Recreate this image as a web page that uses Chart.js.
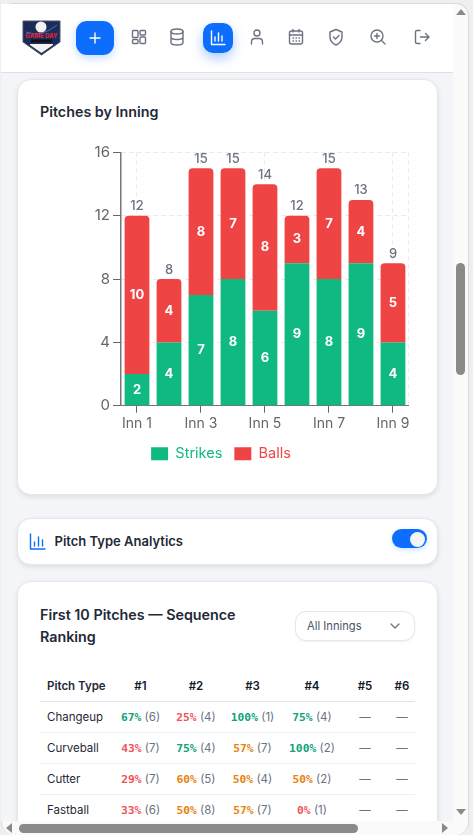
<!DOCTYPE html>
<html><head><meta charset="utf-8">
<script src="https://cdn.jsdelivr.net/npm/chart.js@4"></script>
<style>
*{box-sizing:border-box}
html,body{margin:0;padding:0;width:473px;height:835px;overflow:hidden;background:#efefef;font-family:Inter,"Noto Sans",sans-serif;color:#1f2937}
.abs{position:absolute}
#win{position:absolute;left:1px;top:3px;width:468px;height:832px;background:#fafafa;border-radius:13px;overflow:hidden;border:1px solid #d9d9d9;border-bottom:none}
#pane{position:absolute;left:0;top:0;width:473px;height:821px;overflow:hidden}
#bg{position:absolute;left:1px;top:72px;width:452px;height:749px;background:#f4f5f8}
#nav{position:absolute;left:1px;top:4px;width:452px;height:69px;background:#fff;border-bottom:1px solid #dde1e7}
.card{position:absolute;left:16.5px;width:421px;background:#fff;border:1px solid #e5e7eb;border-radius:14px;box-shadow:0 2px 5px rgba(17,24,39,.1)}
.ttl{position:absolute;font-weight:600;font-size:14.3px;line-height:22px;color:#1f2937}
.ic{position:absolute;width:20px;height:20px;fill:none;stroke:#6b7280;stroke-width:1.4;stroke-linecap:round;stroke-linejoin:round}
#plus{position:absolute;left:76px;top:21px;width:38px;height:34px;border-radius:11px;background:#0d6efd;box-shadow:0 3px 8px rgba(13,110,253,.25)}
#act{position:absolute;left:203px;top:23px;width:30px;height:30px;border-radius:10px;background:#0d6efd;box-shadow:0 5px 12px rgba(13,110,253,.35)}
#chartBox{position:absolute;left:31px;top:140px;width:381px;height:331px}
#tbl{position:absolute;left:40px;top:671px;width:375px;height:160px;font-size:11.5px}
.cell{position:absolute;transform:translate(-50%,-50%);white-space:nowrap;line-height:16px}
.hd{font-weight:600;font-size:11.5px;color:#111827}
.nm{transform:translate(0,-50%);color:#1f2937}
.pc{font-family:"DejaVu Sans Mono",monospace;font-weight:700;font-size:11.3px}
.ct{color:#6b7280}
.dash{color:#6b7280}
.ln{position:absolute;left:0;width:375px;height:1px;background:#eceef1}
.sb{position:absolute;background:#8a8a8a;border-radius:5px}
.ar{position:absolute;width:0;height:0}
</style></head><body>
<div id="win"></div>
<div id="pane">
  <div id="bg"></div>
  <div id="nav"></div>
  <svg class="abs" style="left:21px;top:20px" width="41" height="36" viewBox="0 0 41 36">
    <path d="M2 1H39V22L20.5 35 2 22Z" fill="#1c2c5a" stroke="#4a5568" stroke-width="1"/>
    <path d="M9 24H32V25L20.5 33 9 25Z" fill="#f2f2f2"/>
    <circle cx="20" cy="7" r="5.5" fill="#f4f1f1"/>
    <path d="M5 12Q20 18 36 5" fill="none" stroke="#3f6fd0" stroke-width="1"/>
    <text x="20.5" y="17.500" font-size="6" font-weight="800" fill="#d8283a" text-anchor="middle" font-family="Inter">GAME DAY</text>
    <rect x="10" y="19.500" width="21" height="3" fill="#111"/>
  </svg>
  <div id="plus"></div>
  <svg class="ic" style="left:85px;top:28px;stroke:#fff" viewBox="0 0 20 20"><path d="M10 5V15M5 10H15"/></svg>
  <svg class="ic" style="left:128.500px;top:27px" viewBox="0 0 20 20"><rect x="3.500" y="3.500" width="5.500" height="7" rx="1"/><rect x="11" y="3.500" width="5.500" height="4.500" rx="1"/><rect x="3.500" y="12.500" width="5.500" height="4" rx="1"/><rect x="11" y="10" width="5.500" height="6.500" rx="1"/></svg>
  <svg class="ic" style="left:167px;top:27px" viewBox="0 0 20 20"><ellipse cx="10" cy="4.500" rx="6" ry="2.500"/><path d="M4 4.500V15.500C4 17 7 18 10 18S16 17 16 15.500V4.500M4 10C4 11.500 7 12.500 10 12.500S16 11.500 16 10"/></svg>
  <div id="act"></div>
  <svg class="ic" style="left:208px;top:28px;stroke:#fff" viewBox="0 0 20 20"><path d="M3.500 3V16.500H17M7 13V9M10.500 13V5M14 13V8"/></svg>
  <svg class="ic" style="left:247px;top:27px" viewBox="0 0 20 20"><circle cx="10" cy="6" r="3"/><path d="M4.500 17V15C4.500 13 6 11.500 8 11.500H12C14 11.500 15.500 13 15.500 15V17"/></svg>
  <svg class="ic" style="left:286px;top:27px" viewBox="0 0 20 20"><rect x="3.500" y="4" width="13" height="13" rx="2"/><path d="M3.500 8H16.500M7 2.500V5M13 2.500V5M7 11H7.500M10 11H10.500M13 11H13.500M7 14H7.500M10 14H10.500M13 14H13.500"/></svg>
  <svg class="ic" style="left:326px;top:27px" viewBox="0 0 20 20"><path d="M10 2.500L16 5V10C16 14 13.500 16.500 10 18 6.500 16.500 4 14 4 10V5ZM7.500 10L9.500 12L13 8.500"/></svg>
  <svg class="ic" style="left:368px;top:27px" viewBox="0 0 20 20"><circle cx="9" cy="9" r="6"/><path d="M17 17L13.500 13.500M9 6.500V11.500M6.500 9H11.500"/></svg>
  <svg class="ic" style="left:412px;top:27px" viewBox="0 0 20 20"><path d="M8 3.500H5C4 3.500 3.500 4 3.500 5V15C3.500 16 4 16.500 5 16.500H8M8.500 10H17M13.500 6.500L17 10 13.500 13.500"/></svg>

  <div class="card" style="top:78.500px;height:416px"></div>
  <div class="ttl" style="left:40px;top:101px">Pitches by Inning</div>
  <div id="chartBox"><canvas id="c" width="381" height="331"></canvas></div>

  <div class="card" style="top:517.500px;height:47px"></div>
  <svg class="ic" style="left:28px;top:532px;stroke:#0d6efd" viewBox="0 0 20 20"><path d="M2.500 2V17H17M6.500 14V10M10.500 14V5M14.500 14V8"/></svg>
  <div class="abs" style="left:54.500px;top:533px;font-size:13px;font-weight:600;line-height:16px;color:#1f2937">Pitch Type Analytics</div>
  <div class="abs" style="left:392px;top:529px;width:35px;height:19px;border-radius:10px;background:#0d6efd;box-shadow:0 2px 5px rgba(13,110,253,.2)"></div>
  <div class="abs" style="left:409.500px;top:531.500px;width:15px;height:15px;border-radius:50%;background:#f3f4f6"></div>

  <div class="card" style="top:580.500px;height:300px"></div>
  <div class="ttl" style="left:40px;top:604px">First 10 Pitches — Sequence<br>Ranking</div>
  <div class="abs" style="left:295px;top:611px;width:120px;height:30px;background:#fff;border:1px solid #e5e7eb;border-radius:11px;box-shadow:0 1px 2px rgba(0,0,0,.05)"></div>
  <div class="abs" style="left:307px;top:618px;font-size:11.200px;line-height:16px;color:#4b5563">All Innings</div>
  <svg class="ic" style="left:385px;top:616px" viewBox="0 0 20 20"><path d="M6 8L10 12 14 8" stroke-width="1.200"/></svg>
  <div id="tbl"></div>
</div>
<div class="sb" style="left:456px;top:263px;width:9px;height:112px"></div>
<div class="sb" style="left:19px;top:824px;width:339px;height:9px"></div>
<div class="ar" style="left:456px;top:9px;border-left:5px solid transparent;border-right:5px solid transparent;border-bottom:6px solid #8a8a8a"></div>
<div class="ar" style="left:456px;top:809px;border-left:5px solid transparent;border-right:5px solid transparent;border-top:6px solid #8a8a8a"></div>
<div class="ar" style="left:6px;top:823px;border-top:5px solid transparent;border-bottom:5px solid transparent;border-right:6px solid #8a8a8a"></div>
<div class="ar" style="left:442px;top:823px;border-top:5px solid transparent;border-bottom:5px solid transparent;border-left:6px solid #8a8a8a"></div>
<script>
const innings = ['Inn 1','Inn 2','Inn 3','Inn 4','Inn 5','Inn 6','Inn 7','Inn 8','Inn 9'];
const strikes = [2,4,7,8,6,9,8,9,4];
const balls = [10,4,8,7,8,3,7,4,5];
const tableHeaders = ['#1','#2','#3','#4','#5','#6'];
const pitchTypes = ['Changeup','Curveball','Cutter','Fastball'];
const pitchPct = [[67,25,100,75],[43,75,57,100],[29,60,50,50],[33,50,57,0]];
const pitchCount = [[6,4,1,4],[7,4,7,2],[7,5,4,2],[6,8,7,1]];

const GREEN='#10b981', RED='#ef4444', GREY='#6b7280', FONT='Inter';

const barLabels = {
  id:'barLabels',
  afterDatasetsDraw(chart){
    const ctx=chart.ctx; ctx.save();
    ctx.textAlign='center'; ctx.textBaseline='middle';
    ctx.fillStyle='#fff'; ctx.font='700 13px '+FONT;
    chart.data.datasets.forEach((ds,di)=>{
      chart.getDatasetMeta(di).data.forEach((el,i)=>{
        ctx.fillText(String(ds.data[i]), el.x, (el.y+el.base)/2);
      });
    });
    ctx.fillStyle=GREY; ctx.font='500 13px '+FONT;
    ctx.textBaseline='bottom';
    chart.getDatasetMeta(1).data.forEach((el,i)=>{
      ctx.fillText(String(strikes[i]+balls[i]), el.x, el.y-3);
    });
    ctx.restore();
  }
};
const rightEdge = {
  id:'rightEdge',
  beforeDatasetsDraw(chart){
    const a=chart.chartArea, ctx=chart.ctx; ctx.save();
    ctx.strokeStyle='#e5e7eb'; ctx.lineWidth=1; ctx.setLineDash([4,4]);
    ctx.beginPath(); ctx.moveTo(a.right-.5,a.top); ctx.lineTo(a.right-.5,a.bottom); ctx.stroke();
    ctx.restore();
  }
};

new Chart(document.getElementById('c'),{
  type:'bar',
  data:{labels:innings,datasets:[
    {label:'Strikes',data:strikes,backgroundColor:GREEN,borderSkipped:false,borderRadius:0},
    {label:'Balls',data:balls,backgroundColor:RED,borderRadius:{topLeft:4,topRight:4,bottomLeft:0,bottomRight:0},borderSkipped:false}
  ]},
  plugins:[rightEdge,barLabels],
  options:{
    responsive:false,animation:false,
    barPercentage:.86,categoryPercentage:.9,
    layout:{padding:{top:12.5,right:1,left:0,bottom:0}},
    scales:{
      x:{stacked:true,
        grid:{color:'#e5e7eb',tickColor:'#666',offset:false,drawOnChartArea:true,tickLength:7},
        border:{color:'#777',dash:[4,4],width:1},
        ticks:{color:'#666',font:{family:FONT,size:14},maxRotation:0,autoSkip:true,maxTicksLimit:5,padding:2.5}},
      y:{stacked:true,min:0,max:16,
        grid:{color:'#e5e7eb',tickColor:'#666'},
        border:{color:'#777',dash:[4,4],width:1.5},
        ticks:{stepSize:4,color:'#666',font:{family:FONT,size:15},padding:3},
        afterFit(s){s.width=90;}}
    },
    plugins:{
      tooltip:{enabled:false},
      legend:{position:'bottom',labels:{
        boxWidth:17,boxHeight:13,padding:12,font:{family:FONT,size:14.5},
        generateLabels(chart){
          return chart.data.datasets.map((d,i)=>({text:d.label,fillStyle:d.backgroundColor,strokeStyle:d.backgroundColor,lineWidth:0,fontColor:d.backgroundColor,datasetIndex:i}));
        }}}
    }
  }
});

const tbl=document.getElementById('tbl');
const colX=[100.500,156,212.500,272,325,362];
const rowY=[46,77,108,139];
function add(cls,x,y,html){const d=document.createElement('div');d.className='cell '+cls;d.style.left=x+'px';d.style.top=y+'px';d.innerHTML=html;tbl.appendChild(d);}
add('hd nm',7,15,'Pitch Type');
tableHeaders.forEach((h,i)=>add('hd',colX[i],15,h));
[30,61,92,123].forEach((y,i)=>{const l=document.createElement('div');l.className='ln';l.style.top=y+'px';if(i===0)l.style.background='#dfe2e7';tbl.appendChild(l);});
function pctColor(p){return p>=67?'#10a37a':p>=50?'#e5830f':'#f0545a';}
pitchTypes.forEach((n,r)=>{
  add('nm',7,rowY[r],n);
  tableHeaders.forEach((h,c)=>{
    if(c<4){add('',colX[c],rowY[r],`<span class="pc" style="color:${pctColor(pitchPct[r][c])}">${pitchPct[r][c]}%</span> <span class="ct">(${pitchCount[r][c]})</span>`);}
    else add('dash',colX[c],rowY[r],'—');
  });
});
</script>
</body></html>
